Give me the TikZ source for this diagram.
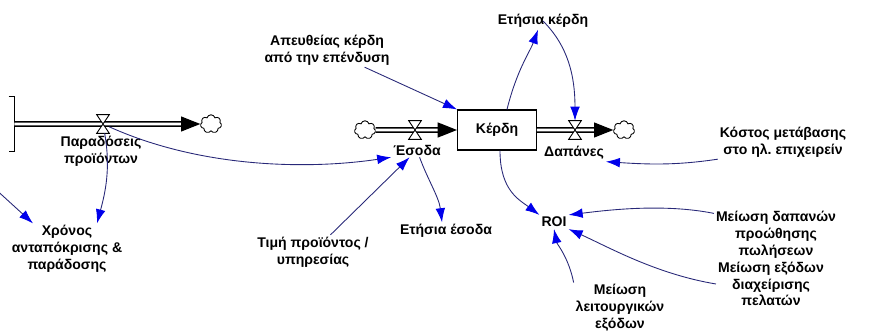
\documentclass[tikz,border=0pt]{standalone}
\usepackage{fontspec}
\setmainfont{Liberation Sans}
\usetikzlibrary{arrows.meta, shapes.symbols, calc}

\definecolor{linkline}{RGB}{40,40,120}
\definecolor{linktip}{RGB}{0,0,235}

\tikzset{
  lbl/.style={font=\bfseries\fontsize{8}{9.6}\selectfont, align=center, inner sep=1pt},
  box/.style={draw, line width=0.7pt, fill=white, minimum width=44.8pt, minimum height=22.7pt, inner sep=1pt, font=\bfseries\fontsize{8}{9.6}\selectfont},
  pipe/.style={double=white, double distance=1.6pt, line width=0.8pt, -{Triangle[length=11pt,width=8.5pt]}},
  valve/.style={minimum width=6.8pt, minimum height=10.2pt, inner sep=0pt},
  cloudy/.style={cloud, cloud puffs=7, draw, line width=0.5pt, minimum width=12pt, minimum height=10.5pt, inner sep=0pt},
  link/.style={linkline, line width=0.5pt, -{Latex[length=8pt,width=5.5pt,color=linktip]}},
}

\begin{document}
\begin{tikzpicture}[x=0.02cm, y=-0.02cm]
\useasboundingbox (0,0) rectangle (886,331);

% Stock, clouds and the level
\node[inner sep=0pt, minimum width=2.8pt, minimum height=31pt] (stockL) at (11.5,124) {};
\draw[line width=0.7pt] (stockL.north west) -- (stockL.north east) -- (stockL.south east) -- (stockL.south west);
\node[cloudy] (cloudA) at (211,124) {};
\node[cloudy] (cloudB) at (365,130) {};
\node[cloudy] (cloudC) at (624,130) {};
\node[box] (kerdi) at (497,130) {Κέρδη};

% Valves
\node[valve] (vParad) at (103,124) {};
\node[valve] (vEsoda) at (415,130) {};
\node[valve] (vDap) at (575,130) {};

% Pipes
\draw[pipe] (stockL.east) -- (cloudA.west);
\draw[pipe] (cloudB.east) -- (kerdi.west);
\draw[pipe] (kerdi.east) -- (cloudC.west);
\foreach \v in {vParad, vEsoda, vDap}
  \draw[fill=white, line width=0.5pt] (\v.north west) -- (\v.north east) -- (\v.south west) -- (\v.south east) -- cycle;

% Variables
\node[lbl] (paradLbl) at (101,151) {Παραδόσεις\\προϊόντων};
\node[lbl] (xronos) at (67,249) {Χρόνος\\ανταπόκρισης \&\\παράδοσης};
\node[lbl] (apeu) at (327,50) {Απευθείας κέρδη\\από την επένδυση};
\node[lbl] (esoda) at (417,150) {Έσοδα};
\node[lbl] (tim) at (313,252) {Τιμή προϊόντος /\\υπηρεσίας};
\node[lbl] (etisiaEsoda) at (446,231) {Ετήσια έσοδα};
\node[lbl] (etisiaKerdi) at (543,21) {Ετήσια κέρδη};
\node[lbl] (dapanes) at (574,153) {Δαπάνες};
\node[lbl] (kostos) at (783,142) {Κόστος μετάβασης\\στο ηλ.\ επιχειρείν};
\node[lbl] (roi) at (554,222) {ROI};
\node[lbl] (meiosiDap) at (776,235) {Μείωση δαπανών\\προώθησης\\πωλήσεων};
\node[lbl] (meiosiEx) at (771,284) {Μείωση εξόδων\\διαχείρισης\\πελατών};
\node[lbl] (meiosiLeit) at (620,308) {Μείωση\\λειτουργικών\\εξόδων};

% Links
\coordinate (offL) at (-8,186);
\draw[link] (vParad) .. controls +(100,45) and +(-80,12) .. (esoda.south west);
\draw[link] (vParad) .. controls +(8,45) and +(8,-30) .. ($(xronos.north)+(30,0)$);
\draw[link] (offL) -- ($(xronos.north)+(-34,0)$);
\draw[link] (apeu) -- (kerdi.north west);
\draw[link] ($(kerdi.north)+(10,0)$) .. controls +(10,-40) and +(-8,22) .. ($(etisiaKerdi.south)+(-5,0)$);
\draw[link] (etisiaKerdi.center) .. controls +(25,25) and +(0,-45) .. (vDap.north);
\draw[link] (tim) -- (esoda);
\draw[link] (esoda) .. controls +(10,28) and +(-3,-25) .. ($(etisiaEsoda.north)+(-4,0)$);
\draw[link] ($(kerdi.south)+(3,0)$) .. controls +(0,40) and +(-20,-15) .. (roi.north west);
\draw[link] ($(meiosiDap.north west)+(0,4)$) .. controls +(-50,-10) and +(40,-5) .. (roi.north east);
\draw[link] (meiosiEx.west) .. controls +(-60,-10) and +(40,18) .. (roi.south east);
\draw[link] (meiosiLeit.north west) .. controls +(-5,-25) and +(3,15) .. (roi.south);
\draw[link] (kostos.south west) .. controls +(-40,6) and +(45,3) .. (dapanes.south east);
\end{tikzpicture}
\end{document}
